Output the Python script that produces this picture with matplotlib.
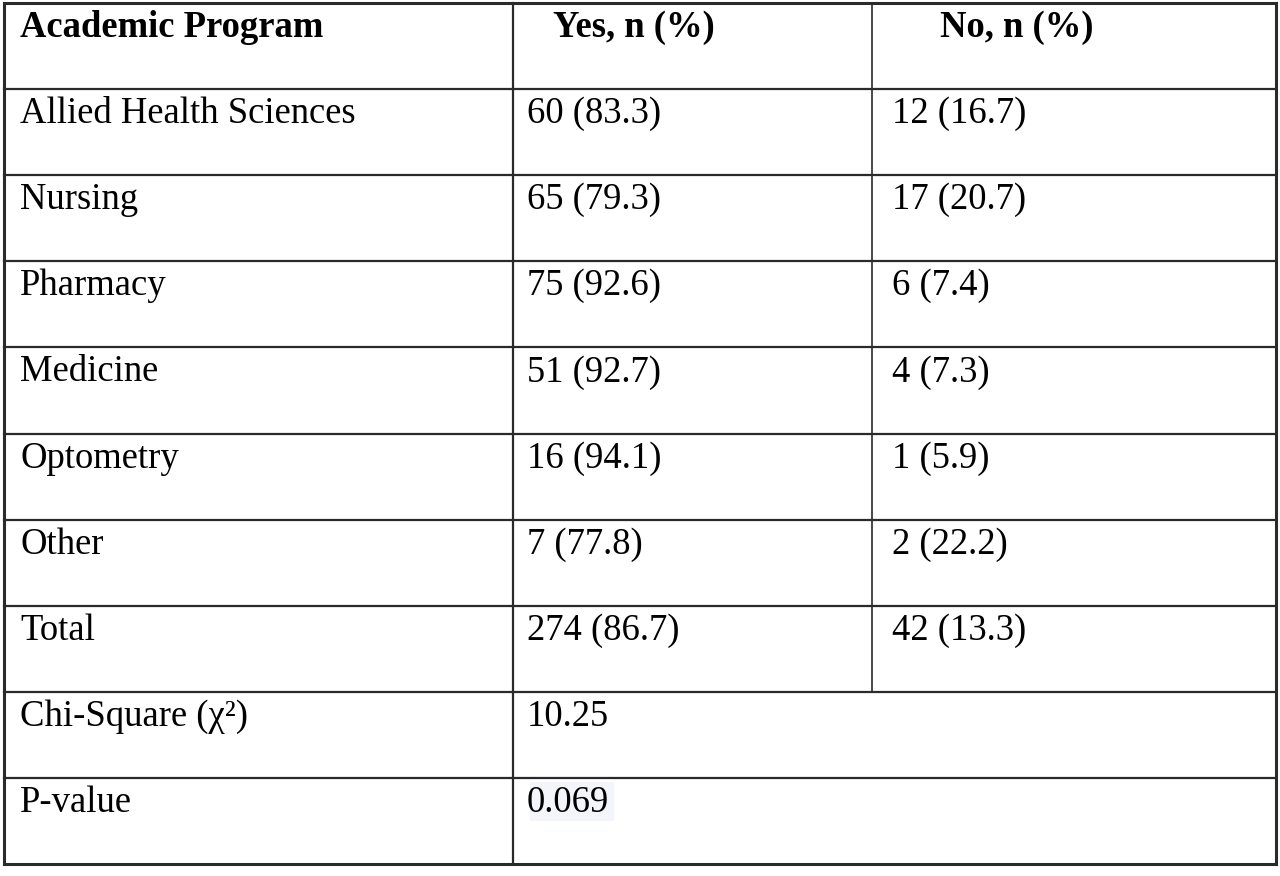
import matplotlib.pyplot as plt
from matplotlib.patches import Rectangle

# table content
header = ['Academic Program', 'Yes, n (%)', 'No, n (%)']
programs = ['Allied Health Sciences', 'Nursing', 'Pharmacy', 'Medicine',
            'Optometry', 'Other', 'Total']
yes_n = [60, 65, 75, 51, 16, 7, 274]
yes_pct = [83.3, 79.3, 92.6, 92.7, 94.1, 77.8, 86.7]
no_n = [12, 17, 6, 4, 1, 2, 42]
no_pct = [16.7, 20.7, 7.4, 7.3, 5.9, 22.2, 13.3]
stat_labels = ['Chi-Square (\u03c7\u00b2)', 'P-value']
stat_values = ['10.25', '0.069']

# layout in pixels
W, H = 1280, 876
col_x = [4, 513, 872, 1276]
row_top = 3
row_h = 86.1
n_rows = 1 + len(programs) + len(stat_labels)
rows_y = [row_top + i * row_h for i in range(n_rows + 1)]
pad = [16, 14, 20]
head_x = [20, 553, 940]
base_off = 34
fs = 26.4
line_c = '#2a2a2a'

plt.rcParams['font.family'] = ['Liberation Serif', 'DejaVu Serif']

fig = plt.figure(figsize=(W / 100, H / 100), dpi=100)
ax = fig.add_axes([0, 0, 1, 1])
ax.set_xlim(0, W)
ax.set_ylim(H, 0)
ax.axis('off')

# horizontal lines
for i, y in enumerate(rows_y):
    lw = 2.2 if i in (0, len(rows_y) - 1) else 1.6
    ax.plot([col_x[0], col_x[-1]], [y, y], color=line_c, lw=lw,
            solid_capstyle='projecting')

# vertical lines
n_full = 1 + len(programs)
ax.plot([col_x[0], col_x[0]], [rows_y[0], rows_y[-1]], color=line_c, lw=2.2)
ax.plot([col_x[-1], col_x[-1]], [rows_y[0], rows_y[-1]], color=line_c, lw=2.2)
ax.plot([col_x[1], col_x[1]], [rows_y[0], rows_y[-1]], color=line_c, lw=1.6)
ax.plot([col_x[2], col_x[2]], [rows_y[0], rows_y[n_full]], color=line_c, lw=1.2)

# header
for j, txt in enumerate(header):
    ax.text(head_x[j], rows_y[0] + base_off, txt, fontsize=fs,
            fontweight='bold', va='baseline', ha='left', color='black')

# body rows
for i, prog in enumerate(programs):
    yb = rows_y[i + 1] + base_off
    cells = [prog, f'{yes_n[i]} ({yes_pct[i]})', f'{no_n[i]} ({no_pct[i]})']
    for j, txt in enumerate(cells):
        ax.text(col_x[j] + pad[j], yb, txt, fontsize=fs, va='baseline',
                ha='left', color='black')

# statistics rows
for k, (lab, val) in enumerate(zip(stat_labels, stat_values)):
    yb = rows_y[n_full + k] + base_off
    ax.text(col_x[0] + pad[0], yb, lab, fontsize=fs, va='baseline',
            ha='left', color='black')
    t = ax.text(col_x[1] + pad[1], yb, val, fontsize=fs, va='baseline',
                ha='left', color='black')
    if k == len(stat_labels) - 1:
        # faint highlight behind the p-value, as in the scanned table
        ax.add_patch(Rectangle((col_x[1] + 17, rows_y[n_full + k] + 4), 84, 39,
                               facecolor='#f3f5fa', edgecolor='none', zorder=0))

fig.savefig('out.png', dpi=100, facecolor='white')
